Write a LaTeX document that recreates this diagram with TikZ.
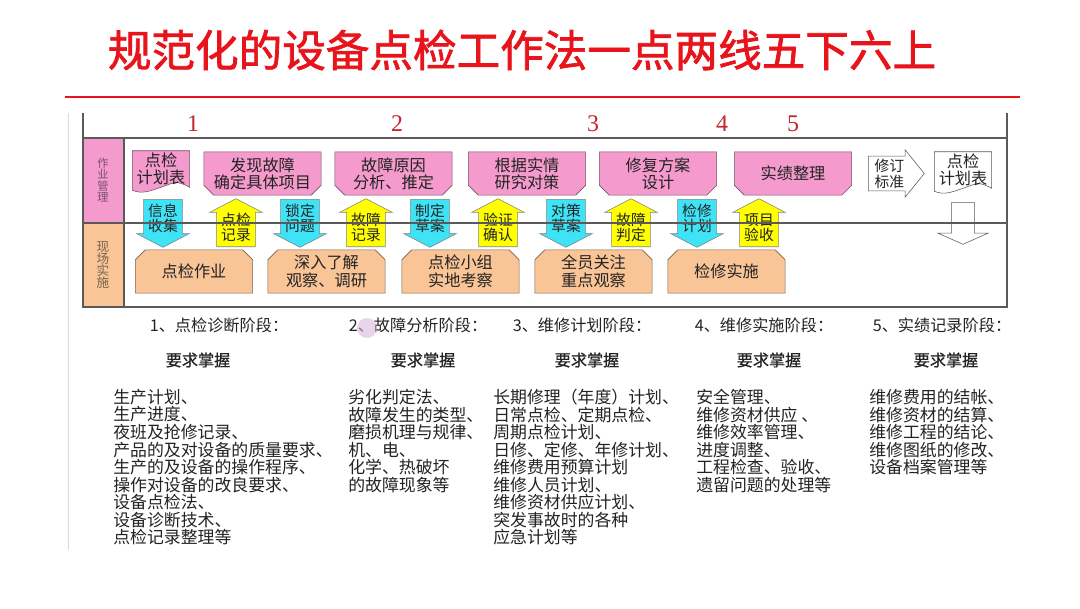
\documentclass[tikz,border=0pt]{standalone}
\usepackage{fontspec}
\setmainfont{Liberation Serif}
\newfontfamily\cjk{Noto Sans CJK SC}
\newfontfamily\cjkheavy{Noto Sans CJK SC}[FakeBold=1.6]
\newfontfamily\cjksemi{Noto Sans CJK SC}[FakeBold=0.8]
\usetikzlibrary{shapes.arrows,positioning,backgrounds,calc}
\definecolor{titlered}{RGB}{232,20,28}
\definecolor{numred}{RGB}{192,38,44}
\definecolor{boxpink}{RGB}{244,154,204}
\definecolor{pinkedge}{RGB}{120,80,105}
\definecolor{boxorange}{RGB}{249,196,150}
\definecolor{orangeedge}{RGB}{120,100,80}
\definecolor{arrcyan}{RGB}{62,228,246}
\definecolor{arryellow}{RGB}{255,255,0}
\definecolor{framegray}{RGB}{90,90,90}
\definecolor{txtgray}{RGB}{35,35,35}

\begin{document}
\begin{tikzpicture}[
      x=0.025cm, y=-0.025cm,
      frame/.style={draw=framegray,line width=0.8pt},
      topbox/.style={minimum width=2.92cm,minimum height=1.07cm,inner sep=1pt,align=center,
                  font=\cjk\fontsize{11.5}{12}\selectfont,text=txtgray},
      botbox/.style={topbox,font=\cjk\fontsize{11.5}{12.6}\selectfont},
      docnode/.style={minimum width=1.42cm,minimum height=0.9cm,inner sep=1pt,align=center,
                  font=\cjk\fontsize{11.5}{12}\selectfont,text=txtgray},
      downarr/.style={single arrow,shape border rotate=270,draw=gray,fill=arrcyan,
                  minimum height=1.2cm,minimum width=1.32cm,single arrow head extend=1.5mm,
                  single arrow tip angle=125,inner sep=1pt,anchor=tail,align=center,
                  font=\cjk\fontsize{10.5}{10.7}\selectfont,text=txtgray},
      uparr/.style={downarr,shape border rotate=90,fill=arryellow},
      stage/.style={font=\cjk\fontsize{11.5}{12}\selectfont,text=txtgray},
      need/.style={font=\cjksemi\fontsize{11.5}{12}\selectfont,text=txtgray},
      items/.style={anchor=north west,inner sep=0pt,align=left,
                  font=\cjk\fontsize{12}{12.45}\selectfont,text=txtgray},
      num/.style={font=\fontsize{17}{17}\selectfont,text=numred}
    ]
    \useasboundingbox (0,0) rectangle (1080,608);

    % title
    \node[font=\cjkheavy\fontsize{31}{31}\selectfont,text=titlered] (title) at (522,50)
      {规范化的设备点检工作法一点两线五下六上};
    \draw[titlered,line width=1.8pt] (65,97) -- (1020,97);
    \draw[gray!30,line width=0.6pt] (68,113) -- (68,550);

    % frame and side column
    \fill[boxpink] (83,138) rectangle (124,223);
    \fill[boxorange] (83,223) rectangle (124,307);
    \draw[frame] (83,113) -- (83,307) -- (1007,307) -- (1007,113);
    \draw[frame] (83,138) -- (1007,138);
    \draw[frame] (124,138) -- (124,307);
    \node[font=\cjk\fontsize{8}{8}\selectfont,text=pinkedge,align=center] (lbl1) at (103,180) {作\\业\\管\\理};
    \node[font=\cjk\fontsize{9}{8.7}\selectfont,text=orangeedge,align=center] (lbl2) at (103,265) {现\\场\\实\\施};

    % stage numbers
    \node[num] (n1) at (193,124) {1};
    \node[num] (n2) at (397,124) {2};
    \node[num] (n3) at (593,124) {3};
    \node[num] (n4) at (722,124) {4};
    \node[num] (n5) at (793,124) {5};

    % management row
    \node[docnode] (plan1) at (161,169) {点检\\计划表};
    \node[topbox] (f1) at (262.5,173.5) {发现故障\\确定具体项目};
    \node[topbox] (f2) at (393.5,173.5) {故障原因\\分析、推定};
    \node[topbox] (f3) at (527,173.5) {根据实情\\研究对策};
    \node[topbox] (f4) at (658,173.5) {修复方案\\设计};
    \node[topbox] (f5) at (793,173.5) {实绩整理};
    \node[single arrow,draw=framegray,fill=white,minimum height=1.4cm,minimum width=1.18cm,
          single arrow head extend=1.5mm,single arrow tip angle=102,inner sep=1pt,anchor=tail,
          align=center,font=\cjk\fontsize{10.5}{11.5}\selectfont,text=txtgray]
          (rev) at (868,173.5) {修订\\标准};
    \node[docnode] (plan2) at (963,170) {点检\\计划表};
    \node[single arrow,shape border rotate=270,draw=framegray,fill=white,minimum height=1.05cm,
          minimum width=1.25cm,single arrow head extend=1.5mm,single arrow tip angle=132,
          anchor=tail] (down) at (963,202) {};

    % field row
    \node[botbox] (b1) at (194,271.5) {点检作业};
    \node[botbox] (b2) at (326.5,271.5) {深入了解\\观察、调研};
    \node[botbox] (b3) at (460.5,271.5) {点检小组\\实地考察};
    \node[botbox] (b4) at (593.5,271.5) {全员关注\\重点观察};
    \node[botbox] (b5) at (726.5,271.5) {检修实施};

    \begin{scope}[on background layer]
      \fill[white] (0,0) rectangle (1080,608);
      \draw[pinkedge,fill=boxpink] (plan1.north west) -- (plan1.north east) -- (plan1.south east)
        .. controls +(-14,-8) and +(12,-4) .. (plan1.south)
        .. controls +(-12,4) and +(10,4) .. ($(plan1.south west)+(0,3)$) -- cycle;
      \draw[framegray,fill=white] (plan2.north west) -- (plan2.north east) -- (plan2.south east)
        .. controls +(-14,-8) and +(12,-4) .. (plan2.south)
        .. controls +(-12,4) and +(10,4) .. ($(plan2.south west)+(0,3)$) -- cycle;
      \foreach \b in {f1,f2,f3,f4,f5}
        \draw[pinkedge,fill=boxpink] (\b.north west) -- (\b.north east)
          -- ($(\b.south east)+(0,-10)$) -- ($(\b.south east)+(-10,0)$)
          -- ($(\b.south west)+(10,0)$) -- ($(\b.south west)+(0,-10)$) -- cycle;
      \foreach \b in {b1,b2,b3,b4,b5}
        \draw[orangeedge,fill=boxorange] ($(\b.north west)+(0,10)$) -- ($(\b.north west)+(10,0)$)
          -- ($(\b.north east)+(-10,0)$) -- ($(\b.north east)+(0,10)$)
          -- (\b.south east) -- (\b.south west) -- cycle;
    \end{scope}

    % arrows between the two rows
    \node[downarr] (a1) at (163,199) {信息\\收集};
    \node[uparr]   (a2) at (236,247) {点检\\记录};
    \node[downarr] (a3) at (300,199) {锁定\\问题};
    \node[uparr]   (a4) at (366,247) {故障\\记录};
    \node[downarr] (a5) at (430,199) {制定\\草案};
    \node[uparr]   (a6) at (498,247) {验证\\确认};
    \node[downarr] (a7) at (566,199) {对策\\草案};
    \node[uparr]   (a8) at (631,247) {故障\\判定};
    \node[downarr] (a9) at (697,199) {检修\\计划};
    \node[uparr]   (a10) at (759,247) {项目\\验收};
    \draw[frame] (83,223) -- (1007,223);

    % stages
    \node[stage] (h1) at (219,325) {1、点检诊断阶段：};
    \node[stage] (h2) at (418,325) {2、故障分析阶段：};
    \node[stage] (h3) at (582,325) {3、维修计划阶段：};
    \node[stage] (h4) at (764,325) {4、维修实施阶段：};
    \node[stage] (h5) at (942,325) {5、实绩记录阶段：};
    \foreach \x [count=\i] in {198,423,587,769,946}
      \node[need] (r\i) at (\x,360) {要求掌握};
    \fill[violet!30,opacity=0.55] (367,328) circle (10);

    \node[items] (l1) at (113,389) {生产计划、\\生产进度、\\夜班及抢修记录、\\产品的及对设备的质量要求、\\生产的及设备的操作程序、\\操作对设备的改良要求、\\设备点检法、\\设备诊断技术、\\点检记录整理等};
    \node[items] (l2) at (348,389) {劣化判定法、\\故障发生的类型、\\磨损机理与规律、\\机、电、\\化学、热破坏\\的故障现象等};
    \node[items] (l3) at (493,389) {长期修理（年度）计划、\\日常点检、定期点检、\\周期点检计划、\\日修、定修、年修计划、\\维修费用预算计划\\维修人员计划、\\维修资材供应计划、\\突发事故时的各种\\应急计划等};
    \node[items] (l4) at (696,389) {安全管理、\\维修资材供应 、\\维修效率管理、\\进度调整、\\工程检查、验收、\\遗留问题的处理等};
    \node[items] (l5) at (869,389) {维修费用的结帐、\\维修资材的结算、\\维修工程的结论、\\维修图纸的修改、\\设备档案管理等};
  \end{tikzpicture}
\end{document}
